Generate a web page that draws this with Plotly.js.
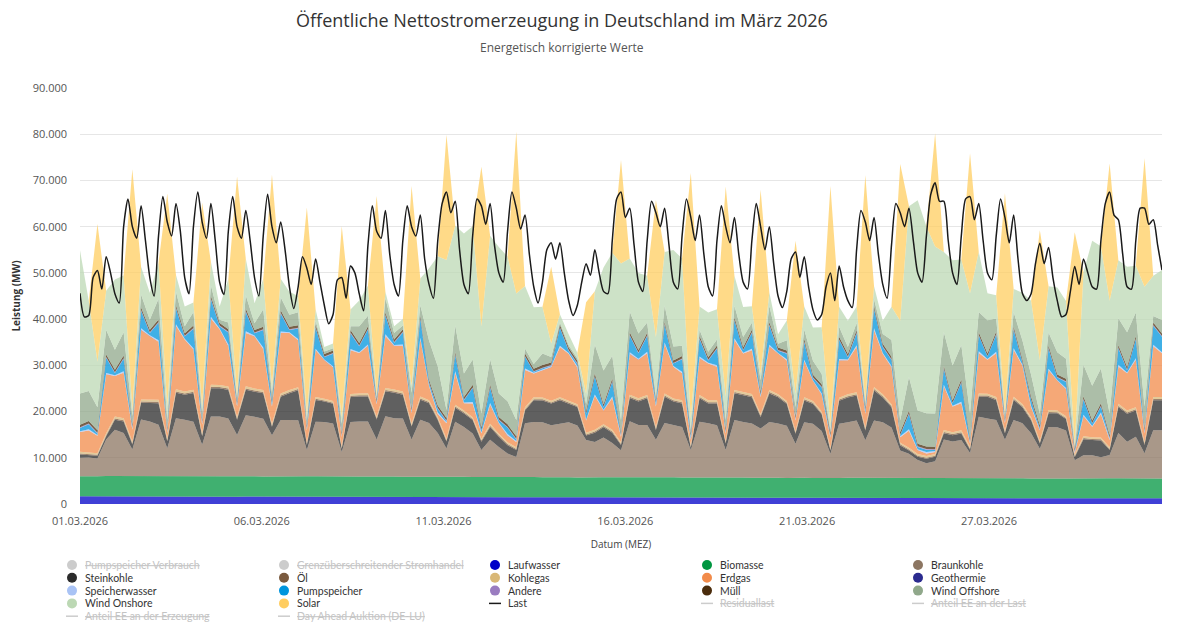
<!DOCTYPE html>
<html><head><meta charset="utf-8">
<script src="https://cdn.plot.ly/plotly-3.0.1.min.js"></script>
<style>html,body{margin:0;padding:0;background:#fff}#chart{width:1200px;height:629px}</style>
</head><body><div id="chart"></div>
<script>
// ---- time grid: stacked series every 6 h, load every 3 h (01.03.2026 00:00 .. 01.04.2026 00:00)
const genStepHours = 6;
const loadStepHours = 3;

// ---- stacked generation series (MW), 4 values per day at 00,06,12,18 h + end point
const laufwasser = [
1650,1640,1620,1660, 1650,1630,1600,1640, 1640,1620,1600,1630, 1630,1620,1590,1620, 1620,1600,1580,1610,
1610,1600,1570,1600, 1600,1580,1560,1590, 1590,1570,1550,1580, 1560,1550,1530,1560, 1550,1540,1520,1540,
1530,1520,1500,1520, 1510,1500,1480,1500, 1490,1480,1460,1480, 1470,1460,1450,1460, 1460,1450,1440,1450,
1440,1430,1420,1430, 1420,1410,1400,1410, 1400,1390,1380,1390, 1390,1380,1370,1380, 1380,1370,1350,1370,
1360,1350,1340,1350, 1340,1330,1320,1330, 1330,1320,1300,1320, 1320,1310,1290,1310, 1300,1290,1280,1300,
1290,1280,1270,1280, 1280,1270,1260,1270, 1270,1260,1250,1260, 1260,1250,1240,1250, 1250,1240,1230,1250,
1250,1240,1230,1240, 1240];
const biomasse = [
4350,4300,4400,4380, 4400,4420,4480,4450, 4420,4400,4460,4430, 4400,4390,4450,4420, 4410,4380,4440,4400,
4390,4370,4430,4400, 4380,4350,4420,4390, 4360,4330,4400,4370, 4380,4390,4450,4410, 4400,4380,4440,4400,
4380,4360,4420,4390, 4370,4350,4410,4380, 4360,4340,4400,4370, 4350,4330,4390,4360, 4340,4310,4380,4350,
4360,4370,4430,4390, 4380,4360,4420,4390, 4370,4350,4410,4380, 4360,4340,4400,4370, 4350,4330,4390,4360,
4330,4300,4370,4340, 4310,4280,4350,4320, 4330,4340,4400,4360, 4340,4320,4380,4350, 4320,4300,4360,4330,
4310,4290,4350,4320, 4300,4280,4340,4310, 4280,4260,4320,4290, 4260,4240,4300,4270, 4290,4300,4360,4320,
4300,4290,4350,4310, 4300];
const braunkohle = [
4000,4100,3800,7900, 10000,9300,5700,12200, 11800,11100,6000,12500, 12200,11800,6800,12900, 12900,12500,8900,13200,
12900,12500,8900,12200, 12200,12200,5700,11800, 11800,11500,5300,11800, 11900,11900,8000,13000, 12600,12600,8000,12300,
11600,9500,6100,11900, 10800,9400,5800,8000, 6500,5100,4300,11600, 11900,11900,11200,11600, 11900,11200,8000,7600,
8600,7400,5800,12100, 11300,11300,8100,11700, 11300,10900,5900,12000, 11700,11300,5900,12400, 12000,11700,10600,12000,
11700,11300,7300,12000, 11700,10200,5200,11700, 12000,12400,8100,12400, 12000,10900,5900,5200, 3900,3200,3600,8300,
7900,8300,5400,13300, 12900,12600,8300,12600, 11900,9800,6400,11100, 11100,10400,3900,5000, 5000,4600,5000,9800,
7900,9000,5400,10400, 10400];
const steinkohle = [
700,600,600,700, 2200,2500,1100,3600, 4000,4700,1500,5500, 5400,6200,1800,6100, 6100,6200,3300,5500,
5400,5500,1800,5000, 5800,6500,1100,4700, 4400,4300,700,5400, 5400,5400,4300,5400, 5500,5100,2800,4300,
4300,2800,1500,3000, 2900,2900,1800,2800, 2200,1800,1500,2800, 4700,4700,4700,5000, 4000,4000,1000,2000,
2200,2200,1100,5000, 5100,5800,2100,5700, 5100,5100,500,5100, 4300,4700,1400,5800, 5800,5700,2500,6200,
5700,4700,2200,4700, 4300,3600,700,5000, 5400,5400,2100,6500, 5400,4400,1100,700, 700,1000,1000,1400,
1400,1400,700,4300, 4700,4300,1400,4300, 3500,2800,1100,3000, 3000,2500,700,3500, 3300,3600,1100,5600,
6100,5700,1800,6500, 6500];
const oel = [
240,230,220,250, 270,280,250,290, 280,290,250,300, 280,290,260,300, 280,290,260,300,
280,280,250,290, 260,250,230,270, 240,230,220,260, 270,280,250,290, 280,280,250,290,
260,250,230,270, 250,250,230,260, 250,240,230,270, 260,250,240,270, 250,240,220,260,
250,260,230,280, 270,280,250,290, 270,270,240,290, 270,280,240,290, 270,280,250,290,
260,250,230,270, 240,230,220,260, 270,280,250,290, 270,260,230,240, 220,220,210,260,
250,260,230,290, 270,280,250,290, 260,250,230,270, 240,230,220,250, 240,260,230,290,
270,280,250,290, 280];
const kohlegas = [
380,370,360,390, 410,420,390,430, 420,430,390,440, 420,430,400,440, 420,430,400,440,
420,420,390,430, 400,390,370,410, 380,370,360,400, 410,420,390,430, 420,420,390,430,
400,390,370,410, 390,390,370,400, 390,380,370,410, 400,390,380,410, 390,380,360,400,
390,400,370,420, 410,420,390,430, 410,410,380,430, 410,420,380,430, 410,420,390,430,
400,390,370,410, 380,370,360,400, 410,420,390,430, 410,400,370,380, 360,360,350,400,
390,400,370,430, 410,420,390,430, 400,390,370,410, 380,370,360,390, 380,400,370,430,
410,420,390,430, 420];
const erdgas = [
4250,4650,3750,12750, 8750,9850,2550,15050, 13750,12550,1150,13750, 11250,8650,1850,14350, 12050,8750,2250,11550,
11250,8850,3750,13050, 12350,10150,2550,10150, 8350,7250,1950,9450, 8750,10250,2650,11250, 9450,9850,2250,12350,
3050,650,3350,6850, 1550,2950,1150,4150, 2250,1450,1150,8050, 5150,5850,7250,10850, 10150,7950,2650,7350,
2950,6850,1150,8850, 8350,9050,4450,10650, 6850,5850,1050,7950, 7950,7250,1550,10850, 8350,9450,3650,9450,
8750,8750,2250,7850, 4350,3650,2250,8050, 7350,9850,2950,12350, 8750,7950,1150,3650, 850,550,450,9450,
5550,5850,750,8750, 7350,9450,1550,10150, 8350,2150,2250,8650, 6450,5850,250,4350, 2250,5050,1550,8050,
8050,10250,1850,10950, 9450];
const geothermie = [
20,20,20,20, 20,20,20,20, 20,20,20,20, 20,20,20,20, 20,20,20,20,
20,20,20,20, 20,20,20,20, 20,20,20,20, 20,20,20,20, 20,20,20,20,
20,20,20,20, 20,20,20,20, 20,20,20,20, 20,20,20,20, 20,20,20,20,
20,20,20,20, 20,20,20,20, 20,20,20,20, 20,20,20,20, 20,20,20,20,
20,20,20,20, 20,20,20,20, 20,20,20,20, 20,20,20,20, 20,20,20,20,
20,20,20,20, 20,20,20,20, 20,20,20,20, 20,20,20,20, 20,20,20,20,
20,20,20,20, 20];
const speicherwasser = [
140,250,180,280, 160,320,220,340, 160,320,220,340, 160,320,220,340, 160,320,220,340,
160,320,220,340, 140,250,180,280, 140,250,180,280, 160,320,220,340, 160,320,220,340,
160,320,220,340, 160,320,220,340, 160,320,220,340, 140,250,180,280, 140,250,180,280,
160,320,220,340, 160,320,220,340, 160,320,220,340, 160,320,220,340, 160,320,220,340,
140,250,180,280, 140,250,180,280, 160,320,220,340, 160,320,220,340, 160,320,220,340,
160,320,220,340, 160,320,220,340, 140,250,180,280, 140,250,180,280, 160,320,220,340,
160,320,220,340, 200];
const pumpspeicher = [
700,1100,300,3300, 500,2700,200,3800, 500,3800,200,3400, 500,4200,200,3800, 500,2600,200,4200,
500,3800,500,3900, 500,2300,200,4500, 500,2700,100,3400, 1300,3200,100,4100, 500,2600,200,4100,
500,800,200,3500, 500,3000,400,3300, 500,1400,300,2500, 200,200,100,3800, 500,500,1200,3800,
500,3200,100,3600, 1200,3400,500,3800, 500,2700,500,3800, 500,3600,200,3800, 500,3400,200,4200,
500,1200,100,3800, 500,1300,100,4100, 500,2600,500,4100, 1300,1300,200,3300, 500,500,200,3400,
500,4100,200,3400, 500,3700,100,4000, 500,1300,200,4300, 500,1300,100,3300, 500,1300,100,3600,
500,4100,200,4100, 3400];
const andere = [
150,150,140,150, 150,150,140,150, 150,150,140,150, 150,150,140,150, 150,150,140,150,
150,150,140,150, 150,150,140,150, 150,150,140,150, 150,150,140,150, 150,150,140,150,
150,150,140,150, 150,150,140,150, 150,150,140,150, 150,150,140,150, 150,150,140,150,
150,150,140,150, 150,150,140,150, 150,150,140,150, 150,150,140,150, 150,150,140,150,
150,150,140,150, 150,150,140,150, 150,150,140,150, 150,150,140,150, 150,150,140,150,
150,150,140,150, 150,150,140,150, 150,150,140,150, 150,150,140,150, 150,150,140,150,
150,150,140,150, 150];
const muell = [
540,550,560,560, 540,550,560,560, 540,550,560,560, 540,550,560,560, 540,550,560,560,
540,550,560,560, 540,550,560,560, 540,550,560,560, 540,550,560,560, 540,550,560,560,
540,550,560,560, 540,550,560,560, 540,550,560,560, 540,550,560,560, 540,550,560,560,
540,550,560,560, 540,550,560,560, 540,550,560,560, 540,550,560,560, 540,550,560,560,
540,550,560,560, 540,550,560,560, 540,550,560,560, 540,550,560,560, 540,550,560,560,
540,550,560,560, 540,550,560,560, 540,550,560,560, 540,550,560,560, 540,550,560,560,
540,550,560,560, 550];
const windOffshore = [
6800,6500,5000,5300, 4300,5000,1800,2800, 2200,4500,1800,2900, 1500,2900,1400,2300, 700,1500,600,2900,
1500,3800,1500,2800, 2600,2800,1100,800, 500,500,1900,800, 3600,2300,500,3000, 1400,800,3300,2200,
8500,8500,1700,5700, 5100,5500,3000,5500, 5100,5000,3500,1100, 1000,2500,1200,500, 500,500,1500,6300,
7300,4900,2600,4500, 3600,2200,700,3500, 3000,2200,700,1300, 1200,1300,1800,2500, 2200,1500,2500,3500,
800,2200,1900,2000, 3000,2200,500,2200, 1500,1500,800,1500, 2100,3600,2500,7300, 7200,7200,7200,7300,
7500,7500,5400,4400, 7200,2800,400,3100, 4100,4800,2500,2800, 4800,4300,300,6800, 7500,7500,4700,5800,
7500,5100,4700,1400, 2900];
const windOnshore = [
31000,19500,9800,8500, 15200,12300,1400,6000, 5800,7800,2900,3600, 4300,2100,1500,5100, 2900,9400,700,7900,
4300,6500,1400,4000, 5000,3500,1400,2500, 1000,1000,1400,3600, 5600,6500,600,1400, 1500,1400,1500,5800,
15600,23800,32500,21600, 30300,28800,18800,26700, 31700,31300,27400,13500, 12300,10100,2900,1800, 2400,1200,2200,11500,
22300,22300,33900,11500, 13100,10100,12800,11600, 20900,18900,2500,5000, 8500,6500,5000,6500, 6500,3600,1500,2900,
2100,4300,2900,5000, 7200,10100,1400,4300, 5700,3600,700,2800, 2900,7200,21600,36900, 45500,40400,36100,17300,
22800,18500,26000,13000, 5800,5000,800,5000, 10300,16000,11600,10000, 14000,12500,400,20000, 31400,26500,24400,12500,
14200,10100,25900,8700, 10800];
const solar = [
0,0,29800,0, 0,0,52000,0, 0,0,46000,0, 0,0,44000,0, 0,0,47300,0,
0,0,45800,0, 0,0,44600,0, 0,0,41300,0, 0,0,42900,0, 0,0,43200,0,
0,0,27100,0, 0,0,34600,0, 0,0,35000,0, 0,0,16600,0, 0,0,19800,0,
0,0,22400,0, 0,0,29700,0, 0,0,53100,0, 0,0,45500,0, 0,0,39700,0,
0,0,33100,0, 0,0,51500,0, 0,0,48700,0, 0,0,33900,0, 0,0,24500,0,
0,0,30300,0, 0,0,47500,0, 0,0,28100,0, 0,0,46100,0, 0,0,29700,0,
0,0,27800,0, 0];

// ---- load (MW), 8 values per day at 00,03,...,21 h + end point
const last = [
45600,40500,40800,49000,50500,46500,53500,50000,
45500,43500,60000,66000,60000,57500,64500,57000,
49000,45000,58000,66500,61000,58000,65000,59000,
49000,45500,60000,67500,61000,57500,65000,57000,
48000,45300,59000,66500,60000,57500,63500,57000,
49000,45000,58000,67000,60000,56500,61000,55000,
47000,42300,47000,53500,51000,47500,53000,48000,
43000,39000,41000,48500,49000,44500,51500,50000,
45500,41800,56000,64500,59000,57500,63500,54000,
47500,45000,57000,64500,60000,58000,62500,53000,
47500,44500,57000,65000,67500,63000,65500,55000,
47500,45500,58000,66000,64500,60500,65000,56000,
50000,48000,59000,67500,64000,59500,62500,54000,
47000,43500,48000,55000,56500,53000,56500,50000,
44000,40800,43000,48000,52000,49500,55000,50000,
46000,45500,57000,66000,67500,62000,64000,56000,
48000,46000,57000,65500,63000,60000,64000,56000,
48000,46500,58000,66000,62000,57000,62500,54000,
47000,45000,57000,64500,60000,56500,62000,54000,
48000,46500,57000,65000,60000,55000,60000,52000,
45000,42500,46000,53000,54500,49000,53500,47000,
42000,39800,41000,47000,50000,44000,51500,47000,
44000,42500,55000,63500,61000,57000,62000,54000,
47500,44500,56000,65000,63000,60000,64000,57000,
50000,48000,58000,67000,69500,65500,65500,57000,
50000,47500,58000,66000,66500,61500,65000,57000,
50000,48500,58000,66000,62000,56500,62500,53000,
45600,44000,45500,52000,56400,52000,55500,49000,
44000,40500,41000,46000,51400,47500,53000,50000,
47000,46500,57000,65000,67500,62500,61500,54000,
47000,46500,57000,64000,64000,60500,61500,56000,
50600];

// ---- axis ticks
const xTickVals = ['2026-03-01 00:00','2026-03-06 05:00','2026-03-11 10:00','2026-03-16 15:00','2026-03-21 20:00','2026-03-27 01:00'];
const xTickText = ['01.03.2026','06.03.2026','11.03.2026','16.03.2026','21.03.2026','27.03.2026'];

// ---- legend (5 columns)
const legendNames = ['Pumpspeicher Verbrauch','Grenzüberschreitender Stromhandel','Laufwasser','Biomasse','Braunkohle',
 'Steinkohle','Öl','Kohlegas','Erdgas','Geothermie',
 'Speicherwasser','Pumpspeicher','Andere','Müll','Wind Offshore',
 'Wind Onshore','Solar','Last','Residuallast','Anteil EE an der Last',
 'Anteil EE an der Erzeugung','Day Ahead Auktion (DE-LU)'];
const legendColors = ['#cccccc','#cccccc','#0000c8','#009640','#8c7662',
 '#2b2b2b','#7a5a3e','#d9b877','#f28b4a','#2b2b8f',
 '#a9c3f5','#0095dd','#9a7cc0','#4a2c0c','#90a88b',
 '#bcd8b4','#ffcd60','#1a1a1a','#cccccc','#cccccc',
 '#cccccc','#cccccc'];
const legendKinds = ['dot','dot','dot','dot','dot','dot','dot','dot','dot','dot','dot','dot','dot','dot','dot','dot','dot','line','line','line','line','line'];
const legendHidden = [1,1,0,0,0,0,0,0,0,0,0,0,0,0,0,0,0,0,1,1,1,1];

// ---- build
function times(n, stepH){
  const t0 = Date.UTC(2026,2,1,0,0);
  const out = [];
  for (let i=0;i<n;i++){ out.push(new Date(t0 + i*stepH*3600000).toISOString().slice(0,16).replace('T',' ')); }
  return out;
}
function rgba(hex, a){
  const n = parseInt(hex.slice(1),16);
  return 'rgba('+((n>>16)&255)+','+((n>>8)&255)+','+(n&255)+','+a+')';
}
const genX = times(laufwasser.length, genStepHours);
const loadX = times(last.length, loadStepHours);

const stack = [
  ['Laufwasser', laufwasser, '#0000c8'],
  ['Biomasse', biomasse, '#009640'],
  ['Braunkohle', braunkohle, '#8c7662'],
  ['Steinkohle', steinkohle, '#2b2b2b'],
  ['Öl', oel, '#7a5a3e'],
  ['Kohlegas', kohlegas, '#d9b877'],
  ['Erdgas', erdgas, '#f28b4a'],
  ['Geothermie', geothermie, '#2b2b8f'],
  ['Speicherwasser', speicherwasser, '#a9c3f5'],
  ['Pumpspeicher', pumpspeicher, '#0095dd'],
  ['Andere', andere, '#9a7cc0'],
  ['Müll', muell, '#4a2c0c'],
  ['Wind Offshore', windOffshore, '#90a88b'],
  ['Wind Onshore', windOnshore, '#bcd8b4'],
  ['Solar', solar, '#ffcd60']
];
const traces = stack.map(([name, y, c]) => ({
  type:'scatter', mode:'lines', name, x:genX, y, stackgroup:'gen',
  line:{width:0, color:c}, fillcolor:rgba(c,0.75), showlegend:false,
  hovertemplate:'%{y:,.0f} MW<extra>'+name+'</extra>'
}));
traces.push({type:'scatter', mode:'lines', name:'Last', x:loadX, y:last,
  line:{color:'#1a1a1a', width:1.5, shape:'spline', smoothing:0.7}, showlegend:false});

// pixel -> paper helpers for the plot box (l=80, r=1162, t=88, b=504)
const PL=80, PW=1082, PB=504, PH=416;
const px = v => (v-PL)/PW, py = v => (PB-v)/PH;
const colX = [72, 284, 495, 707, 918];
const rowY = [565, 577.8, 590.6, 603.4, 616.2];
const shapes = [], annotations = [];
legendNames.forEach((nm,i)=>{
  const cx = colX[i%5], cy = rowY[Math.floor(i/5)];
  const col = legendColors[i];
  if (legendKinds[i]==='dot'){
    shapes.push({type:'circle', xref:'paper', yref:'paper', x0:px(cx-5), x1:px(cx+5), y0:py(cy+5), y1:py(cy-5),
      fillcolor:col, line:{width:0}});
  } else {
    shapes.push({type:'line', xref:'paper', yref:'paper', x0:px(cx-6), x1:px(cx+6), y0:py(cy), y1:py(cy),
      line:{color:col, width:1.5}});
  }
  annotations.push({xref:'paper', yref:'paper', x:px(cx+12), y:py(cy), xanchor:'left', yanchor:'middle',
    showarrow:false, align:'left', borderpad:0,
    text: legendHidden[i] ? '<s>'+nm+'</s>' : nm,
    font:{family:'Lato, "Open Sans", sans-serif', size:10.5, color: legendHidden[i] ? '#c4c4c4' : '#333333'}});
});
annotations.push({xref:'paper', yref:'paper', x:px(562), y:py(48), xanchor:'center', yanchor:'middle',
  showarrow:false, text:'Energetisch korrigierte Werte', font:{size:12, color:'#555555'}});

const layout = {
  width:1200, height:629,
  margin:{l:80, r:38, t:88, b:125},
  paper_bgcolor:'#ffffff', plot_bgcolor:'#ffffff',
  separators:',.',
  font:{family:'"Open Sans", "Noto Sans", sans-serif', color:'#333'},
  title:{text:'Öffentliche Nettostromerzeugung in Deutschland im März 2026',
    font:{size:18, color:'#333333'}, x:562/1200, xanchor:'center', y:1-21/629, yanchor:'middle'},
  xaxis:{type:'date', range:['2026-03-01 00:00','2026-04-01 00:00'], tickmode:'array',
    tickvals:xTickVals, ticktext:xTickText, showgrid:false, zeroline:false, showline:false,
    ticks:'', tickfont:{size:11, color:'#555'}, ticklabelstandoff:9,
    title:{text:'Datum (MEZ)', font:{size:10, color:'#444'}, standoff:13}},
  yaxis:{range:[0,90000], dtick:10000, tickformat:',d', gridcolor:'#e6e6e6', gridwidth:1,
    zeroline:false, showline:false, ticks:'', tickfont:{size:11, color:'#555'}, ticklabelstandoff:12,
    title:{text:'<b>Leistung (MW)</b>', font:{size:10, color:'#333'}, standoff:10}},
  showlegend:false,
  shapes, annotations,
  hovermode:'x unified'
};
Plotly.newPlot('chart', traces, layout, {displayModeBar:false, responsive:false});
</script>
</body></html>
